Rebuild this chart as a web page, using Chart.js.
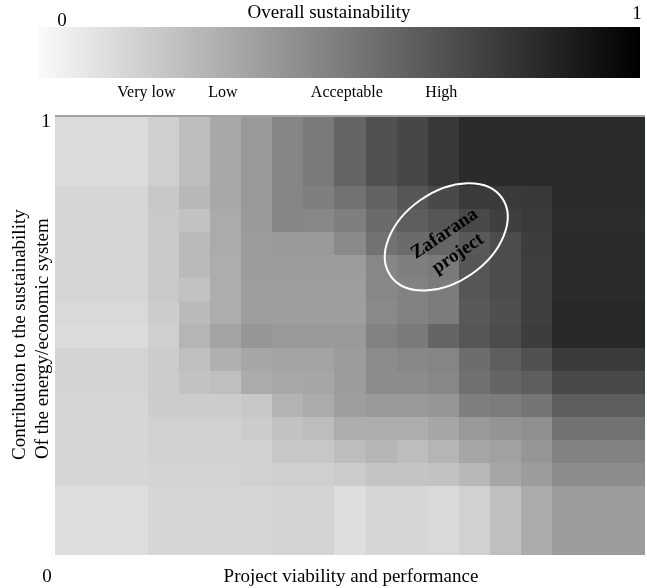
<!DOCTYPE html>
<html>
<head>
<meta charset="utf-8">
<title>Overall sustainability map</title>
<script src="https://cdn.jsdelivr.net/npm/chart.js@4.4.0/dist/chart.umd.min.js"></script>
<style>
  html, body { margin: 0; padding: 0; background: #fff; }
  #wrap { width: 647px; height: 588px; }
</style>
</head>
<body>
<div id="wrap"><canvas id="map" width="647" height="588"></canvas></div>
<script>
// band edges in map units (0..19); first and last bands are three units wide
var xEdges = [0, 3, 4, 5, 6, 7, 8, 9, 10, 11, 12, 13, 14, 15, 16, 19];
var yEdges = [0, 3, 4, 5, 6, 7, 8, 9, 10, 11, 12, 13, 14, 15, 16, 19];

// overall sustainability (0 = white, 1 = black), rows listed top to bottom
var sustainability = [
  [0.14, 0.19, 0.26, 0.34, 0.40, 0.48, 0.53, 0.61, 0.69, 0.73, 0.79, 0.84, 0.84, 0.84, 0.84],
  [0.16, 0.22, 0.28, 0.34, 0.40, 0.48, 0.51, 0.56, 0.62, 0.67, 0.72, 0.78, 0.78, 0.79, 0.84],
  [0.16, 0.21, 0.24, 0.33, 0.40, 0.48, 0.47, 0.51, 0.59, 0.64, 0.67, 0.72, 0.76, 0.78, 0.83],
  [0.16, 0.21, 0.27, 0.33, 0.39, 0.40, 0.40, 0.46, 0.56, 0.59, 0.61, 0.66, 0.71, 0.77, 0.84],
  [0.16, 0.21, 0.27, 0.32, 0.39, 0.39, 0.39, 0.39, 0.47, 0.51, 0.53, 0.67, 0.71, 0.76, 0.84],
  [0.16, 0.21, 0.24, 0.32, 0.38, 0.38, 0.38, 0.38, 0.47, 0.50, 0.52, 0.67, 0.71, 0.76, 0.84],
  [0.15, 0.20, 0.27, 0.32, 0.38, 0.38, 0.38, 0.38, 0.46, 0.50, 0.52, 0.66, 0.70, 0.76, 0.85],
  [0.14, 0.19, 0.29, 0.36, 0.41, 0.40, 0.40, 0.40, 0.49, 0.53, 0.61, 0.67, 0.71, 0.77, 0.85],
  [0.17, 0.20, 0.25, 0.31, 0.35, 0.36, 0.36, 0.39, 0.45, 0.47, 0.48, 0.58, 0.64, 0.69, 0.78],
  [0.17, 0.20, 0.24, 0.25, 0.33, 0.34, 0.35, 0.39, 0.45, 0.45, 0.47, 0.57, 0.61, 0.64, 0.72],
  [0.16, 0.20, 0.20, 0.20, 0.22, 0.30, 0.33, 0.38, 0.40, 0.40, 0.41, 0.51, 0.52, 0.55, 0.64],
  [0.16, 0.18, 0.18, 0.18, 0.20, 0.24, 0.26, 0.32, 0.32, 0.32, 0.35, 0.40, 0.42, 0.44, 0.56],
  [0.16, 0.18, 0.18, 0.18, 0.18, 0.22, 0.22, 0.26, 0.29, 0.26, 0.29, 0.35, 0.37, 0.41, 0.49],
  [0.16, 0.17, 0.17, 0.17, 0.18, 0.19, 0.19, 0.20, 0.23, 0.23, 0.24, 0.28, 0.35, 0.39, 0.45],
  [0.13, 0.16, 0.16, 0.16, 0.16, 0.17, 0.17, 0.13, 0.16, 0.16, 0.15, 0.18, 0.25, 0.33, 0.39]
];

var levelNames = ['Very low', 'Low', 'Acceptable', 'High'];
var levelAt = [0.18, 0.307, 0.513, 0.67];
var scaleEnds = ['0', '1'];
var project = { name: ['Zafarana', 'project'], x: 12.6, y: 13.8 };

var serif = '"Liberation Serif", "DejaVu Serif", serif';

function shade(s) {
  var L = Math.round(255 * (1 - s));
  if (L < 130) return 'rgb(' + L + ',' + (L + 3) + ',' + (L + 1) + ')';
  if (L > 180) return 'rgb(' + L + ',' + (L - 1) + ',' + (L + 1) + ')';
  return 'rgb(' + L + ',' + L + ',' + L + ')';
}

var cellPlugin = {
  id: 'cells',
  beforeDatasetsDraw: function (chart) {
    var ctx = chart.ctx, xs = chart.scales.x, ys = chart.scales.y;
    var nRows = sustainability.length;
    ctx.save();
    for (var r = 0; r < nRows; r++) {
      var band = nRows - 1 - r;
      var yTop = Math.round(ys.getPixelForValue(yEdges[band + 1]));
      var yBot = Math.round(ys.getPixelForValue(yEdges[band]));
      for (var c = 0; c < sustainability[r].length; c++) {
        var x0 = Math.round(xs.getPixelForValue(xEdges[c]));
        var x1 = Math.round(xs.getPixelForValue(xEdges[c + 1]));
        ctx.fillStyle = shade(sustainability[r][c]);
        ctx.fillRect(x0, yTop, x1 - x0, yBot - yTop);
      }
    }
    // top edge line
    var a = chart.chartArea;
    ctx.fillStyle = '#a3a3a3';
    ctx.fillRect(a.left, a.top - 2, a.right - a.left, 2);
    ctx.restore();
  }
};

var decorPlugin = {
  id: 'decor',
  afterDraw: function (chart) {
    var ctx = chart.ctx, xs = chart.scales.x, ys = chart.scales.y;
    ctx.save();

    // colour scale bar
    var barL = 38, barR = 640, barT = 27, barB = 78;
    var grad = ctx.createLinearGradient(barL, 0, barR, 0);
    grad.addColorStop(0, '#fbfbfb');
    grad.addColorStop(1, '#000000');
    ctx.fillStyle = grad;
    ctx.fillRect(barL, barT, barR - barL, barB - barT);

    ctx.fillStyle = '#000';
    ctx.textBaseline = 'middle';
    ctx.textAlign = 'center';
    ctx.font = '19px ' + serif;
    ctx.fillText('Overall sustainability', 329, 13);
    ctx.fillText(scaleEnds[0], 62, 21);
    ctx.fillText(scaleEnds[1], 637, 14);

    ctx.font = '16px ' + serif;
    for (var i = 0; i < levelNames.length; i++) {
      ctx.fillText(levelNames[i], barL + levelAt[i] * (barR - barL), 93);
    }

    // axis ends and titles
    ctx.font = '19px ' + serif;
    ctx.fillText(scaleEnds[1], 46, 122);
    ctx.fillText(scaleEnds[0], 47, 577);
    ctx.fillText('Project viability and performance', 351, 577);

    ctx.textAlign = 'left';
    ctx.save();
    ctx.translate(20, 460);
    ctx.rotate(-Math.PI / 2);
    ctx.fillText('Contribution to the sustainability', 0, 0);
    ctx.restore();
    ctx.save();
    ctx.translate(43, 459);
    ctx.rotate(-Math.PI / 2);
    ctx.fillText('Of the energy/economic system', 0, 0);
    ctx.restore();
    ctx.textAlign = 'center';

    // project marker
    var px = xs.getPixelForValue(project.x), py = ys.getPixelForValue(project.y);
    ctx.save();
    ctx.translate(px, py);
    ctx.rotate(-35 * Math.PI / 180);
    ctx.beginPath();
    ctx.ellipse(0, 0, 68, 45, 0, 0, 2 * Math.PI);
    ctx.strokeStyle = '#ffffff';
    ctx.lineWidth = 2;
    ctx.stroke();
    ctx.restore();

    ctx.save();
    ctx.translate(px + 5, py + 7);
    ctx.rotate(-34 * Math.PI / 180);
    ctx.font = 'bold 19px ' + serif;
    ctx.fillStyle = '#000';
    ctx.fillText(project.name[0], 0, -12);
    ctx.fillText(project.name[1], 0, 12);
    ctx.restore();

    ctx.restore();
  }
};

var ctx = document.getElementById('map').getContext('2d');
var chart = new Chart(ctx, {
  type: 'scatter',
  data: { datasets: [{ data: [], pointRadius: 0 }] },
  options: {
    responsive: false,
    animation: false,
    layout: { padding: { left: 55, right: 2, top: 117, bottom: 33 } },
    plugins: {
      legend: { display: false },
      tooltip: { enabled: false }
    },
    scales: {
      x: { type: 'linear', min: 0, max: 19, display: false },
      y: { type: 'linear', min: 0, max: 19, display: false }
    }
  },
  plugins: [cellPlugin, decorPlugin]
});
</script>
</body>
</html>
